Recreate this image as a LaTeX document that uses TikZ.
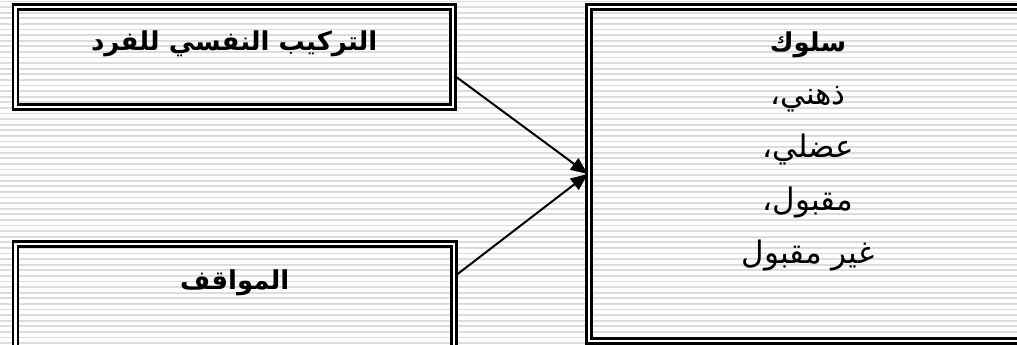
\documentclass[tikz,border=0pt]{standalone}
\usepackage{fontspec}
\newfontfamily\arabicfont[Script=Arabic]{DejaVu Sans}
\TeXXeTstate=1
\usetikzlibrary{arrows.meta,calc}
\definecolor{rule}{RGB}{220,220,220}
\definecolor{ink}{RGB}{0,0,0}
\tikzset{
  >={Triangle[length=17pt,width=14pt]},
  panel/.style={draw=ink,line width=2.5pt,double=white,double distance=2.8pt,
    inner sep=0pt},
  tag/.style={font=\arabicfont\fontsize{#1}{#1}\selectfont\bfseries,text=ink,inner sep=0pt},
  tag/.default=26,
  lines/.style={font=\arabicfont\fontsize{31}{53}\selectfont,text=ink,align=center,inner sep=0pt},
  flow/.style={->,line width=2pt,draw=ink},
}

\begin{document}
\begin{tikzpicture}[x=1pt,y=-1pt]
  \useasboundingbox (0,0) rectangle (1017,345);
  \clip (0,0) rectangle (1017,345);
  % striped slide background
  \foreach \y in {1.5,7.1,...,346} \draw[rule,line width=1.8pt] (0,\y) -- (1017,\y);
  % boxes
  \node[panel,minimum width=437.5pt,minimum height=100pt] (psych) at (234.25,57) {};
  \node[panel,minimum width=438.5pt,minimum height=120pt] (attitude) at (234.75,304) {};
  \node[panel,minimum width=438pt,minimum height=334pt] (behavior) at (808,174) {};
  \node[tag] (psychtext) at ($(psych.north)+(0,38)$) {\beginR التركيب النفسي للفرد\endR};
  \node[tag] (attitudetext) at ($(attitude.north)+(0,40)$) {\beginR المواقف\endR};
  \node[lines,anchor=north] (behaviortext) at ($(behavior.north)+(0,26)$)
    {{\fontsize{26}{53}\selectfont\bfseries\beginR سلوك\endR}\\ \beginR ذهني،\endR\\ \beginR عضلي،\endR\\ \beginR مقبول،\endR\\ \beginR غير مقبول\endR};
  % arrows
  \draw[flow] ($(psych.north east)!0.68!(psych.south east)$) -- (behavior.west);
  \draw[flow] ($(attitude.north east)!0.27!(attitude.south east)$) -- (behavior.west);
\end{tikzpicture}
\end{document}
